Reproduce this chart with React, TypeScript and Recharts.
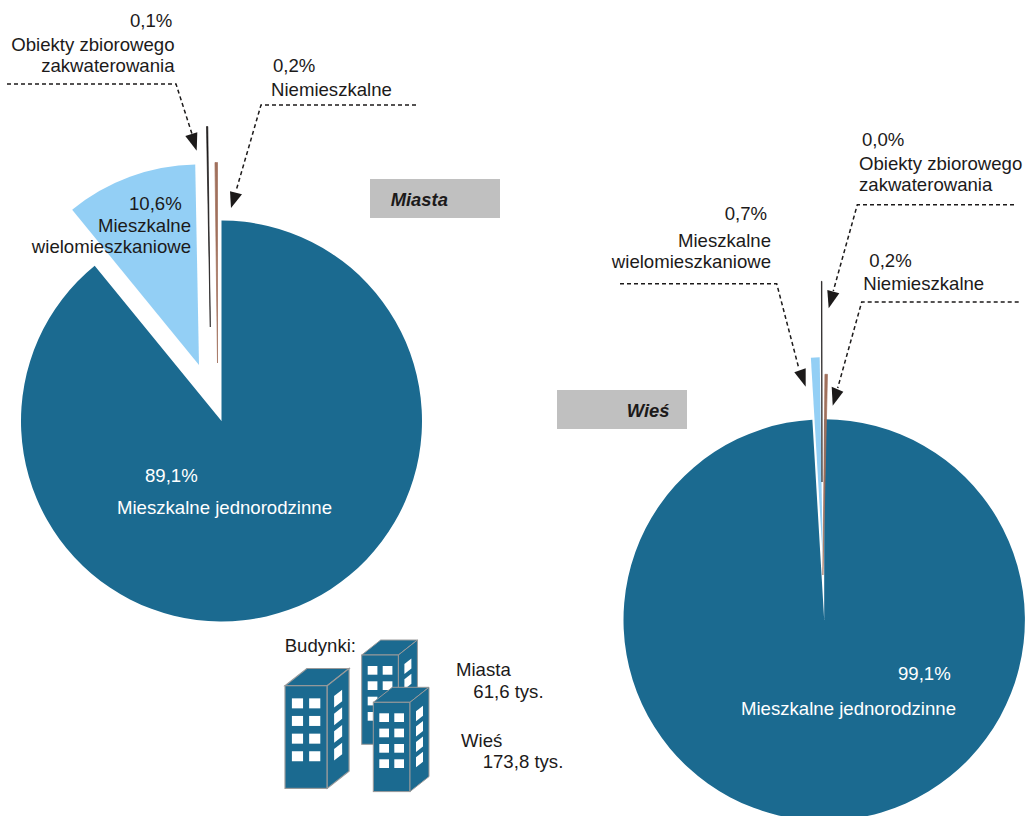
import React from "react";
import { PieChart, Pie, Cell, Sector } from "recharts";

const CATEGORIES = ["Mieszkalne jednorodzinne", "Mieszkalne wielomieszkaniowe", "Obiekty zbiorowego zakwaterowania", "Niemieszkalne"];
const MIASTA_VALUES = [89.1, 10.6, 0.1, 0.2];
const WIES_VALUES = [99.1, 0.7, 0.04, 0.2];
const BUILDING_LABELS = ["Miasta", "Wieś"];
const BUILDING_COUNTS = ["61,6 tys.", "173,8 tys."];

const SLICE_COLORS = ["#1b6a90", "#93cff5", "#1c1a1a", "#a0705c"];
const INK = "#1c1a1a";
const FONT = "'Liberation Sans', Arial, sans-serif";

// how far each slice is pulled out of its pie
const MIASTA_OFFSETS = [
  { dx: 0, dy: 0, rot: 0 },
  { dx: -22.5, dy: -56, rot: 0 },
  { dx: -11.2, dy: -94, rot: 0 },
  { dx: -4, dy: -58, rot: 0 },
];
const WIES_OFFSETS = [
  { dx: 0, dy: 0, rot: 0 },
  { dx: -1.5, dy: -62, rot: 0 },
  { dx: -2.2, dy: -138, rot: 0.7 },
  { dx: -1.3, dy: -45, rot: 1.3 },
];

const pct = (v: number) => v.toFixed(1).replace(".", ",") + "%";
const toRows = (values: number[]) => CATEGORIES.map((name, i) => ({ name, value: values[i] }));

function explodedSlice(offsets: { dx: number; dy: number; rot: number }[]) {
  return (props: any) => {
    const o = offsets[props.index] || offsets[0];
    const cx = props.cx + o.dx;
    const cy = props.cy + o.dy;
    const thin = props.index >= 2;
    return (
      <g transform={o.rot ? `rotate(${o.rot} ${cx} ${cy})` : undefined}>
        <Sector
          cx={cx}
          cy={cy}
          innerRadius={0}
          outerRadius={props.outerRadius}
          startAngle={props.startAngle}
          endAngle={props.endAngle}
          fill={props.fill}
          stroke={thin ? props.fill : "none"}
          strokeWidth={thin ? 0.7 : 0}
        />
      </g>
    );
  };
}

function Lines({ x, y, lines, anchor = "start", fill = INK, size = 18.6 }: any) {
  return (
    <g>
      {lines.map((l: [string, number], i: number) => (
        <text key={i} x={x} y={y + l[1]} textAnchor={anchor} fill={fill} fontSize={size} fontFamily={FONT}>
          {l[0]}
        </text>
      ))}
    </g>
  );
}

function Callout({ path, head }: { path: string; head: string }) {
  return (
    <g>
      <polyline points={path} fill="none" stroke={INK} strokeWidth={1.5} strokeDasharray="4 3" />
      <polygon points={head} fill={INK} />
    </g>
  );
}

function Tag({ x, y, label, textX }: { x: number; y: number; label: string; textX: number }) {
  return (
    <g>
      <rect x={x} y={y} width={130} height={39} fill="#c0c0c0" />
      <text x={textX} y={y + 26.5} fontSize={18.4} fontWeight="bold" fontStyle="italic" fontFamily={FONT} fill={INK}>
        {label}
      </text>
    </g>
  );
}

function Building({ x, y, s }: { x: number; y: number; s: number }) {
  const w = 36.7, h = 89.3, ox = 19, oy = 15;
  const rows = [11, 26.3, 41.7, 57];
  return (
    <g transform={`translate(${x} ${y}) scale(${s})`} stroke="#9a9a9a" strokeWidth={1}>
      <polygon points={`0,0 ${ox},${-oy} ${w + ox},${-oy} ${w},0`} fill={SLICE_COLORS[0]} />
      <rect x={0} y={0} width={w} height={h} fill={SLICE_COLORS[0]} />
      <polygon points={`${w},0 ${w + ox},${-oy} ${w + ox},${h - oy} ${w},${h}`} fill={SLICE_COLORS[0]} />
      {rows.map((ry) => (
        <g key={ry} stroke="none" fill="#ffffff">
          <rect x={6} y={ry} width={9.7} height={8.7} />
          <rect x={21} y={ry} width={9.7} height={8.7} />
          <polygon points={`${w + 6},${ry - 2} ${w + 13},${ry - 7.5} ${w + 13},${ry + 2.5} ${w + 6},${ry + 8}`} />
        </g>
      ))}
    </g>
  );
}

export default function App() {
  return (
    <div style={{ position: "absolute", left: 0, top: 0, width: 1028, height: 816, background: "#fff" }}>
      <PieChart width={1028} height={816} margin={{ top: 0, right: 0, bottom: 0, left: 0 }}>
        <Pie
          data={toRows(MIASTA_VALUES)}
          dataKey="value"
          nameKey="name"
          cx={221.5}
          cy={421}
          outerRadius={200.5}
          startAngle={90}
          endAngle={-270}
          stroke="none"
          shape={explodedSlice(MIASTA_OFFSETS)}
          isAnimationActive={false}
        >
          {MIASTA_VALUES.map((_, i) => (
            <Cell key={i} fill={SLICE_COLORS[i]} />
          ))}
        </Pie>
        <Pie
          data={toRows(WIES_VALUES)}
          dataKey="value"
          nameKey="name"
          cx={824.2}
          cy={620}
          outerRadius={200.7}
          startAngle={90}
          endAngle={-270}
          stroke="none"
          shape={explodedSlice(WIES_OFFSETS)}
          isAnimationActive={false}
        >
          {WIES_VALUES.map((_, i) => (
            <Cell key={i} fill={SLICE_COLORS[i]} />
          ))}
        </Pie>
      </PieChart>

      {/* labels sit in their own svg, the pie sectors would paint over them otherwise */}
      <svg width={1028} height={816} style={{ position: "absolute", left: 0, top: 0, pointerEvents: "none" }}>
        {/* Miasta */}
        <Lines x={130} y={27} lines={[[pct(MIASTA_VALUES[2]), 0]]} />
        <Lines x={174.5} y={51} anchor="end" lines={[["Obiekty zbiorowego", 0], ["zakwaterowania", 21]]} />
        <Callout path="7,84 176,84 192,134" head="185.3,136 197.3,132.3 196.7,150.7" />
        <Lines x={273} y={72} lines={[[pct(MIASTA_VALUES[3]), 0]]} />
        <Lines x={271} y={95.7} lines={[[CATEGORIES[3], 0]]} />
        <Callout path="416,105 261,105 236,191" head="230,191.3 242,194.3 231,208" />
        <Lines x={129} y={210} lines={[[pct(MIASTA_VALUES[1]), 0]]} />
        <Lines x={191} y={232} anchor="end" lines={[["Mieszkalne", 0], ["wielomieszkaniowe", 21]]} />
        <Lines x={145} y={482} fill="#ffffff" lines={[[pct(MIASTA_VALUES[0]), 0]]} />
        <Lines x={117} y={514} fill="#ffffff" lines={[[CATEGORIES[0], 0]]} />
        <Tag x={370} y={179} label="Miasta" textX={390.7} />

        {/* Wieś */}
        <Lines x={862} y={146} lines={[[pct(WIES_VALUES[2]), 0]]} />
        <Lines x={859} y={170} lines={[["Obiekty zbiorowego", 0], ["zakwaterowania", 21]]} />
        <Callout path="1014,204.7 857.3,204.7 833.3,291" head="827.3,290 839.3,293.3 828.7,308.3" />
        <Lines x={724.7} y={220} lines={[[pct(WIES_VALUES[1]), 0]]} />
        <Lines x={771} y={247} anchor="end" lines={[["Mieszkalne", 0], ["wielomieszkaniowe", 21]]} />
        <Callout path="620,283.7 776.7,283.7 799,369" head="794.3,372.3 805.7,368.3 805.7,386.7" />
        <Lines x={869.3} y={267} lines={[[pct(WIES_VALUES[3]), 0]]} />
        <Lines x={863.3} y={290.3} lines={[[CATEGORIES[3], 0]]} />
        <Callout path="1018.7,302 861.7,302 837.7,388" head="831.7,386.7 843.3,391.7 832.7,405.7" />
        <Lines x={898} y={680} fill="#ffffff" lines={[[pct(WIES_VALUES[0]), 0]]} />
        <Lines x={741} y={715} fill="#ffffff" lines={[[CATEGORIES[0], 0]]} />
        <Tag x={557} y={390} label="Wieś" textX={626.7} />

        {/* Budynki */}
        <Lines x={284.7} y={651.7} lines={[["Budynki:", 0]]} />
        <Building x={361.7} y={655} s={1} />
        <Building x={373.3} y={702.3} s={1} />
        <Building x={285} y={685.7} s={1.15} />
        <Lines x={456} y={676} lines={[[BUILDING_LABELS[0], 0]]} />
        <Lines x={473.3} y={698.3} lines={[[BUILDING_COUNTS[0], 0]]} />
        <Lines x={461} y={746.7} lines={[[BUILDING_LABELS[1], 0]]} />
        <Lines x={482.7} y={767.7} lines={[[BUILDING_COUNTS[1], 0]]} />
      </svg>
    </div>
  );
}
